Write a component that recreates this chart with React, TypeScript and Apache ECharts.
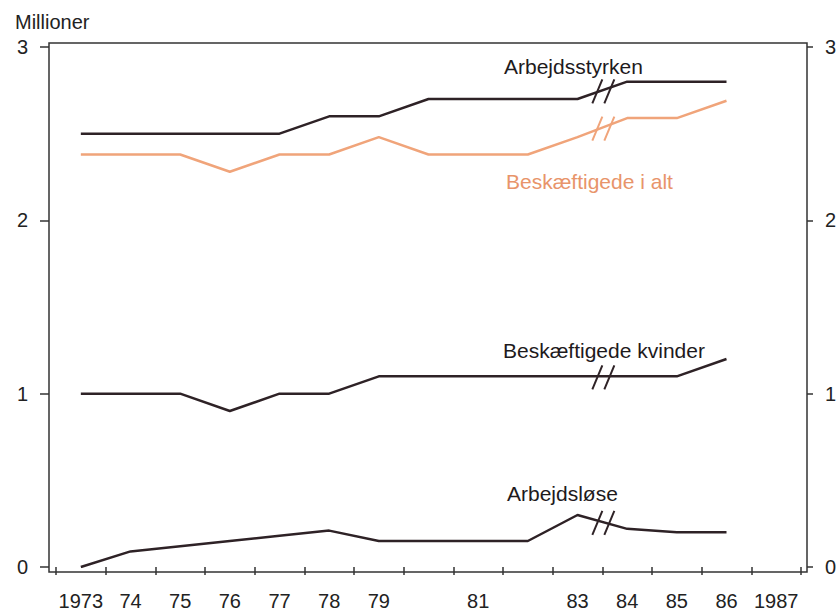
import React, { useEffect, useRef } from "react";
import * as echarts from "echarts";

const years = ["1973","1974","1975","1976","1977","1978","1979","1980","1981","1982","1983","1984","1985","1986","1987"];
const yearLabels = ["1973","74","75","76","77","78","79","","81","","83","84","85","86","1987"];

const arbejdsstyrken = [2.5, 2.5, 2.5, 2.5, 2.5, 2.6, 2.6, 2.7, 2.7, 2.7, 2.7, 2.8, 2.8, 2.8];
const beskaeftigedeIAlt = [2.38, 2.38, 2.38, 2.28, 2.38, 2.38, 2.48, 2.38, 2.38, 2.38, 2.48, 2.59, 2.59, 2.69];
const beskaeftigedeKvinder = [1.0, 1.0, 1.0, 0.9, 1.0, 1.0, 1.1, 1.1, 1.1, 1.1, 1.1, 1.1, 1.1, 1.2];
const arbejdsloese = [0.0, 0.09, 0.12, 0.15, 0.18, 0.21, 0.15, 0.15, 0.15, 0.15, 0.3, 0.22, 0.2, 0.2];

const yTicks = [0, 1, 2, 3];
const breakIndex = 10; // break between 1983 and 1984

const DARK = "#2e2226";
const ORANGE = "#f0a47a";
const ORANGE_TEXT = "#e8946a";
const FONT = "'Liberation Sans', Arial, Helvetica, sans-serif";

function breakSeries(values: number[], color: string) {
  return {
    type: "custom",
    xAxisIndex: 0,
    yAxisIndex: 0,
    silent: true,
    z: 5,
    itemStyle: { color },
    encode: { x: 0, y: 1 },
    data: [[breakIndex, values[breakIndex], values[breakIndex + 1]]],
    renderItem: (params: any, api: any) => {
      const i = api.value(0);
      const a = api.coord([i, api.value(1)]);
      const b = api.coord([i + 1, api.value(2)]);
      const mx = (a[0] + b[0]) / 2 + 1;
      const my = (a[1] + b[1]) / 2 + 1;
      const c = api.visual("color");
      const slash = (dx: number) => ({
        type: "line",
        shape: { x1: mx + dx - 5, y1: my + 12, x2: mx + dx + 5, y2: my - 12 },
        style: { stroke: c, lineWidth: 2 },
      });
      return { type: "group", children: [slash(-6), slash(6)] };
    },
  };
}

function lineSeries(name: string, values: number[], color: string) {
  return {
    type: "line",
    name,
    data: values,
    symbol: "none",
    lineStyle: { color, width: 2.5 },
    z: 3,
  };
}

export default function App() {
  const ref = useRef<HTMLDivElement>(null);
  useEffect(() => {
    if (!ref.current) return;
    const chart = echarts.init(ref.current, null, { renderer: "svg" });
    const axisLabelStyle = { color: "#222", fontSize: 20, fontFamily: FONT };
    const yCommon = {
      type: "value",
      min: yTicks[0],
      max: yTicks[yTicks.length - 1],
      interval: 1,
      splitLine: { show: false },
      axisLine: { show: false },
    };
    chart.setOption({
      animation: false,
      backgroundColor: "#fff",
      grid: { left: 56, right: 39, top: 47, bottom: 44, containLabel: false },
      xAxis: {
        type: "category",
        data: years,
        boundaryGap: true,
        offset: 5,
        axisLine: { show: false },
        axisTick: { show: true, interval: 0, length: 8, lineStyle: { color: "#333", width: 1.5 } },
        axisLabel: {
          interval: 0,
          margin: 19,
          formatter: (_v: string, idx: number) => yearLabels[idx],
          color: "#222",
          fontSize: 20,
          fontFamily: FONT,
        },
        splitLine: { show: false },
      },
      yAxis: [
        {
          ...yCommon,
          position: "left",
          offset: 7,
          axisTick: { show: true, length: 9, lineStyle: { color: "#333", width: 1.5 } },
          axisLabel: { ...axisLabelStyle, margin: 21 },
        },
        {
          ...yCommon,
          position: "right",
          offset: 6,
          axisTick: { show: true, length: 6, lineStyle: { color: "#333", width: 1.5 } },
          axisLabel: { ...axisLabelStyle, margin: 18 },
        },
      ],
      series: [
        lineSeries("Arbejdsstyrken", arbejdsstyrken, DARK),
        lineSeries("Beskæftigede i alt", beskaeftigedeIAlt, ORANGE),
        lineSeries("Beskæftigede kvinder", beskaeftigedeKvinder, DARK),
        lineSeries("Arbejdsløse", arbejdsloese, DARK),
        breakSeries(arbejdsstyrken, DARK),
        breakSeries(beskaeftigedeIAlt, ORANGE),
        breakSeries(beskaeftigedeKvinder, DARK),
        breakSeries(arbejdsloese, DARK),
      ],
      graphic: [
        {
          type: "rect",
          silent: true,
          z: 1,
          shape: { x: 49, y: 43, width: 758, height: 529 },
          style: { fill: "none", stroke: "#333", lineWidth: 1.5 },
        },
        {
          type: "text",
          x: 15,
          y: 22,
          style: { text: "Millioner", fontSize: 20, fontFamily: FONT, fill: "#222", verticalAlign: "middle" },
        },
        {
          type: "text",
          x: 504,
          y: 66,
          style: { text: "Arbejdsstyrken", fontSize: 21, fontFamily: FONT, fill: "#1e1a1c", verticalAlign: "middle" },
        },
        {
          type: "text",
          x: 506,
          y: 181,
          style: { text: "Beskæftigede i alt", fontSize: 21, fontFamily: FONT, fill: ORANGE_TEXT, verticalAlign: "middle" },
        },
        {
          type: "text",
          x: 503,
          y: 350,
          style: { text: "Beskæftigede kvinder", fontSize: 21, fontFamily: FONT, fill: "#1e1a1c", verticalAlign: "middle" },
        },
        {
          type: "text",
          x: 507,
          y: 493,
          style: { text: "Arbejdsløse", fontSize: 21, fontFamily: FONT, fill: "#1e1a1c", verticalAlign: "middle" },
        },
      ],
    });
    return () => chart.dispose();
  }, []);
  return <div ref={ref} style={{ width: 840, height: 611, position: "absolute", left: 0, top: 0 }} />;
}
